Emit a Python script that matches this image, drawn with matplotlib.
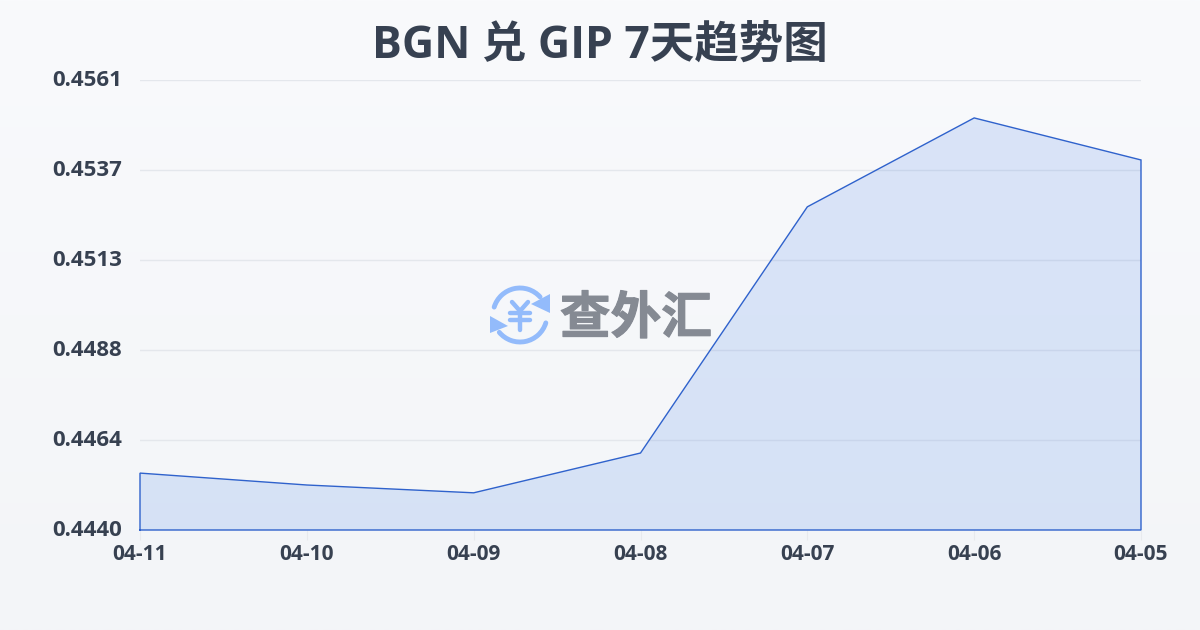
import matplotlib

matplotlib.use("Agg")

import matplotlib.pyplot as plt
import matplotlib.patheffects as pe
import numpy as np
from matplotlib.patches import Arc, Polygon
from matplotlib.transforms import ScaledTranslation

plt.rcParams["font.family"] = ["Open Sans", "Noto Sans CJK SC", "DejaVu Sans"]

dates = ["04-11", "04-10", "04-09", "04-08", "04-07", "04-06", "04-05"]
rates = [0.44553, 0.44521, 0.44500, 0.44607, 0.45269, 0.45508, 0.45395]
y_ticks = [0.4440, 0.44642, 0.44884, 0.45126, 0.45368, 0.4561]
y_labels = ["0.4440", "0.4464", "0.4488", "0.4513", "0.4537", "0.4561"]
title = "BGN 兑 GIP 7天趋势图"

W, H = 1200, 630
text_color = "#374151"
logo_blue = "#93bbfb"

fig = plt.figure(figsize=(12, 6.3), dpi=100)

# background gradient
bg = fig.add_axes([0, 0, 1, 1], zorder=0)
bg.imshow(
    np.linspace(0, 1, 256).reshape(-1, 1),
    aspect="auto",
    cmap=matplotlib.colors.LinearSegmentedColormap.from_list("bg", ["#f9fafc", "#f3f5f8"]),
)
bg.axis("off")

# watermark layer, in pixel coordinates
logo = fig.add_axes([0, 0, 1, 1], zorder=1)
logo.set_xlim(0, W)
logo.set_ylim(H, 0)
logo.axis("off")
logo.add_patch(Arc((520, 315), 54, 54, theta1=197, theta2=318, color=logo_blue, lw=3.5, capstyle="round"))
logo.add_patch(Arc((520, 315), 54, 54, theta1=17, theta2=140, color=logo_blue, lw=3.5, capstyle="round"))
logo.add_patch(Polygon([(550, 294), (550, 313), (531, 304)], color=logo_blue, lw=0))
logo.add_patch(Polygon([(490, 316), (490, 333), (508, 326)], color=logo_blue, lw=0))
for xs, ys in [
    ([512, 520, 528], [302, 311, 302]),
    ([510, 530], [313, 313]),
    ([510, 530], [320, 320]),
    ([520, 520], [312, 330]),
]:
    logo.plot(xs, ys, color=logo_blue, lw=3.2, solid_capstyle="round", solid_joinstyle="round")
logo.text(
    636, 319, "查外汇", fontsize=36.5, fontweight="bold", color="#858a93", ha="center", va="center",
    family=["Noto Sans CJK SC", "DejaVu Sans"],
    path_effects=[pe.withStroke(linewidth=0.8, foreground="#858a93")],
)

# main chart
ax = fig.add_axes([140 / W, 1 - 530 / H, (1141 - 140) / W, 450 / H], zorder=2)
ax.patch.set_alpha(0)
x = np.arange(len(dates))
ax.set_xlim(0, len(dates) - 1)
ax.set_ylim(y_ticks[0], y_ticks[-1])
ax.fill_between(x, rates, y_ticks[0], facecolor="#2f71e6", alpha=0.15, lw=0, zorder=3)
ax.plot(
    np.r_[x[0], x, x[-1], x[0]],
    np.r_[y_ticks[0], rates, y_ticks[0], y_ticks[0]],
    color="#2f62cc",
    lw=1,
    zorder=4,
    clip_on=False,
    solid_joinstyle="miter",
)
ax.set_yticks(y_ticks, y_labels)
ax.set_xticks(x, dates)
ax.grid(axis="y", color="#e4e7ec", lw=1, zorder=1)
for spine in ax.spines.values():
    spine.set_visible(False)
ax.tick_params(axis="y", length=0, pad=13, labelsize=16, labelcolor=text_color)
ax.tick_params(axis="x", length=7, width=0.8, color="#e8eaee", pad=3, labelsize=15, labelcolor=text_color)
for label in ax.get_xticklabels() + ax.get_yticklabels():
    label.set_fontweight("bold")
# y labels sit a little above their grid lines
for label in ax.get_yticklabels():
    label.set_transform(label.get_transform() + ScaledTranslation(0, 2 / 100, fig.dpi_scale_trans))

fig.text(0.5, 1 - 46 / H, title, fontsize=32, fontweight="bold", color="#374151", ha="center", va="center")

fig.savefig("out.png", dpi=100)
plt.close(fig)
